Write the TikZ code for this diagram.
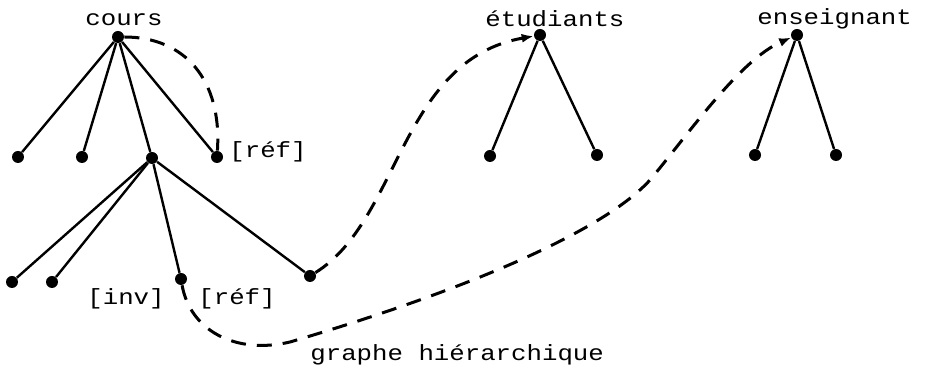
\documentclass[tikz,border=0pt]{standalone}
\usepackage{fontspec}
\usetikzlibrary{arrows.meta}
\newfontfamily\typefont[FakeStretch=1.17]{Liberation Mono}

\begin{document}
\begin{tikzpicture}[x=0.5pt,y=-0.5pt,
  dot/.style={circle,fill,inner sep=0pt,minimum size=6pt},
  edge/.style={line width=1.2pt},
  link/.style={dash pattern=on 7.5pt off 5.5pt,line width=1.5pt},
  lab/.style={anchor=base west,inner sep=0pt,font=\typefont\fontsize{11}{13}\selectfont}]
\useasboundingbox (0,0) rectangle (925,383);
% arbre cours
\node[dot] (cours) at (118,37) {};
\foreach \n/\x/\y in {c1/18/157,c2/82/157,c3/152/158,c4/217/157} {\node[dot] (\n) at (\x,\y) {};\draw[edge] (cours)--(\n);}
\foreach \n/\x/\y in {d1/12/282,d2/52/282,d3/181/279,d4/310/276} {\node[dot] (\n) at (\x,\y) {};\draw[edge] (c3)--(\n);}
% arbres etudiants et enseignant
\node[dot] (etud) at (540,35) {};
\foreach \n/\x/\y in {e1/490/156,e2/597/155} {\node[dot] (\n) at (\x,\y) {};\draw[edge] (etud)--(\n);}
\node[dot] (ens) at (797,35) {};
\foreach \n/\x/\y in {s1/755/155,s2/836/155} {\node[dot] (\n) at (\x,\y) {};\draw[edge] (ens)--(\n);}
% textes
\node[lab] (tcours) at (85,26) {cours};
\node[lab] (tetud) at (485,27) {étudiants};
\node[lab] (tens) at (757,25) {enseignant};
\node[lab] (tref1) at (229,158) {[réf]};
\node[lab] (tinv) at (87,305) {[inv]};
\node[lab] (tref2) at (198,305) {[réf]};
\node[lab] (tgraphe) at (310,361) {graphe hiérarchique};
% liens
\draw[link] (cours) .. controls (185,37) and (222,80) .. (c4);
\draw[link,-{Latex[length=6pt,width=4.5pt]}] (d4) .. controls (400,220) and (400,60) .. (etud);
\draw[link,-{Latex[length=6pt,width=4.5pt]}] (d3) .. controls (190,330) and (235,355) .. (290,342)
  .. controls (450,295) and (600,235) .. (650,180) .. controls (690,132) and (740,60) .. (ens);
\end{tikzpicture}
\end{document}
